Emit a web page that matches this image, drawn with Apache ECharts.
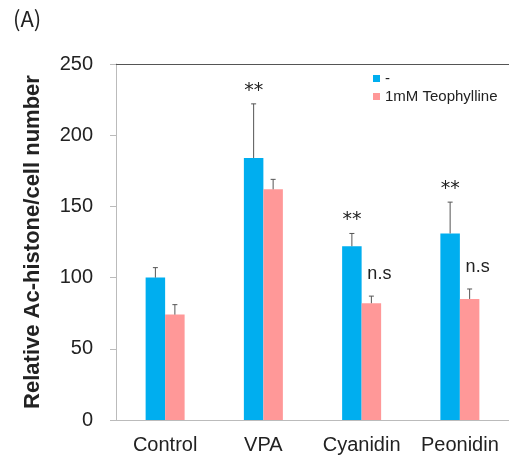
<!DOCTYPE html>
<html>
<head>
<meta charset="utf-8">
<script src="https://cdn.jsdelivr.net/npm/echarts@6/dist/echarts.min.js"></script>
<style>
  html, body { margin: 0; padding: 0; background: #fff; }
  #main { width: 509px; height: 458px; }
</style>
</head>
<body>
<div id="main"></div>
<script>
var categories = ['Control', 'VPA', 'Cyanidin', 'Peonidin'];
var yTicks = [0, 50, 100, 150, 200, 250];
// blue series "-"
var baseVals = [100, 184, 122, 131];
var baseErr = [7, 38, 9, 22];
var baseMarks = ['', '**', '**', '**'];
// pink series "1mM Teophylline"
var teoVals = [74, 162, 82, 85];
var teoErr = [7, 7, 5, 7];
var teoMarks = ['', '', 'n.s', 'n.s'];

var BLUE = '#00AEEF';
var PINK = '#FF9898';
var BAR_W = 19.5;

var chart = echarts.init(document.getElementById('main'));

function errSeries(vals, errs, side) {
    return {
        type: 'custom',
        xAxisIndex: 0,
        yAxisIndex: 0,
        silent: true,
        z: 5,
        data: vals.map(function (v, i) { return [i, v, v + errs[i]]; }),
        renderItem: function (params, api) {
            var bot = api.coord([api.value(0), api.value(1)]);
            var top = api.coord([api.value(0), api.value(2)]);
            var x = bot[0] + side * BAR_W / 2;
            var st = { stroke: '#555', lineWidth: 1 };
            return {
                type: 'group',
                children: [
                    { type: 'line', shape: { x1: x, y1: bot[1], x2: x, y2: top[1] }, style: st },
                    { type: 'line', shape: { x1: x - 2.5, y1: top[1], x2: x + 2.5, y2: top[1] }, style: st }
                ]
            };
        }
    };
}

function markSeries(vals, errs, marks, side, dx, dy, font) {
    return {
        type: 'custom',
        xAxisIndex: 0,
        yAxisIndex: 0,
        silent: true,
        z: 6,
        data: vals.map(function (v, i) { return [i, v + errs[i]]; }),
        renderItem: function (params, api) {
            var txt = marks[params.dataIndex];
            if (!txt) return null;
            var p = api.coord([api.value(0), api.value(1)]);
            return {
                type: 'text',
                style: {
                    text: txt,
                    x: p[0] + side * BAR_W / 2 + dx,
                    y: p[1] - dy,
                    align: 'center',
                    verticalAlign: 'middle',
                    fill: '#222',
                    font: font
                }
            };
        }
    };
}

var option = {
    animation: false,
    title: {
        text: '(A)',
        left: 8,
        top: 3,
        textStyle: { fontSize: 22, fontWeight: 'normal', color: '#222', fontFamily: 'Noto Sans CJK SC' }
    },
    legend: {
        orient: 'vertical',
        left: 368,
        top: 66,
        itemWidth: 7,
        itemHeight: 7,
        itemGap: 3,
        icon: 'rect',
        data: ['-', '1mM Teophylline'],
        textStyle: { fontSize: 15, color: '#222', fontFamily: 'Liberation Sans' }
    },
    grid: { left: 116, top: 64, width: 396, height: 356 },
    xAxis: [{
        type: 'category',
        data: categories,
        axisLine: { lineStyle: { color: '#bbb' } },
        axisTick: { show: false },
        axisLabel: { fontSize: 20, color: '#222', margin: 15, fontFamily: 'Liberation Sans', interval: 0 }
    }, {
        type: 'category',
        data: categories,
        position: 'top',
        axisLine: { lineStyle: { color: '#555' } },
        axisTick: { show: false },
        axisLabel: { show: false }
    }],
    yAxis: {
        type: 'value',
        min: 0,
        max: 250,
        interval: 50,
        name: 'Relative Ac-histone/cell number',
        nameLocation: 'middle',
        nameGap: 72,
        nameTextStyle: { fontSize: 22, fontWeight: 'bold', color: '#222', fontFamily: 'Liberation Sans' },
        axisLine: { show: true, lineStyle: { color: '#bbb' } },
        axisTick: { show: true, length: 6, lineStyle: { color: '#bbb' } },
        splitLine: { show: false },
        axisLabel: {
            fontSize: 20, color: '#222', margin: 23, fontFamily: 'Liberation Sans',
            formatter: function (v) { return yTicks.indexOf(v) >= 0 ? String(v) : ''; }
        }
    },
    series: [
        { name: '-', type: 'bar', data: baseVals, barWidth: BAR_W, barGap: '0%', itemStyle: { color: BLUE } },
        { name: '1mM Teophylline', type: 'bar', data: teoVals, barWidth: BAR_W, barGap: '0%', itemStyle: { color: PINK } },
        errSeries(baseVals, baseErr, -1),
        errSeries(teoVals, teoErr, 1),
        markSeries(baseVals, baseErr, baseMarks, -1, 0, 13, '19px "DejaVu Sans", sans-serif'),
        markSeries(teoVals, teoErr, teoMarks, 1, 8, 22, '18px "Liberation Sans", Arial, sans-serif')
    ]
};
chart.setOption(option);
</script>
</body>
</html>
